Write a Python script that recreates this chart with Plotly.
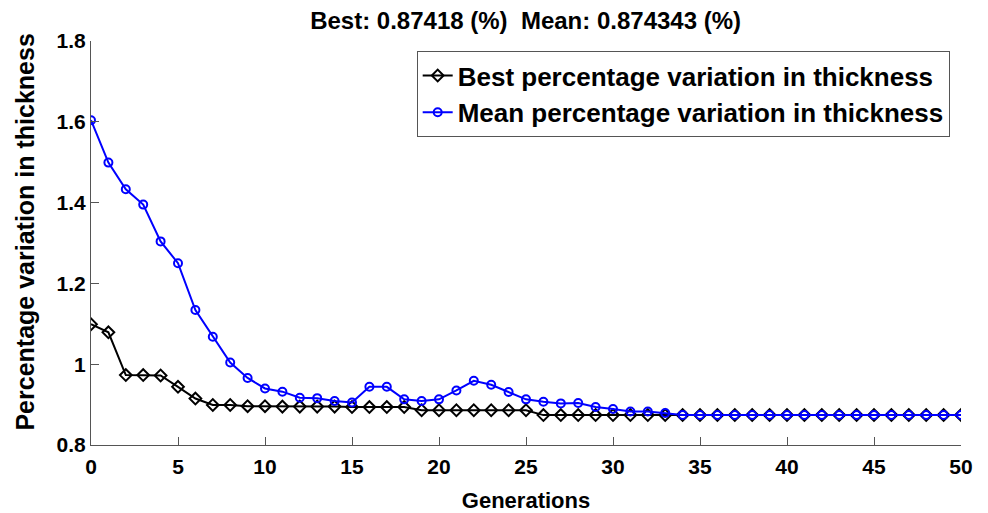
import plotly.graph_objects as go

generations = list(range(51))
best = [1.099, 1.079, 0.973, 0.973, 0.972, 0.944, 0.915, 0.899, 0.899, 0.896,
        0.896, 0.895, 0.895, 0.895, 0.895, 0.894, 0.894, 0.894, 0.894, 0.886,
        0.886, 0.886, 0.886, 0.886, 0.886, 0.886, 0.874, 0.874, 0.874, 0.874,
        0.874, 0.874, 0.874, 0.874, 0.874, 0.874, 0.874, 0.874, 0.874, 0.874,
        0.874, 0.874, 0.874, 0.874, 0.874, 0.874, 0.874, 0.874, 0.874, 0.874,
        0.87418]
mean = [1.604, 1.499, 1.433, 1.395, 1.304, 1.250, 1.134, 1.068, 1.004, 0.966,
        0.940, 0.932, 0.917, 0.916, 0.909, 0.905, 0.944, 0.944, 0.913, 0.909,
        0.913, 0.935, 0.959, 0.949, 0.931, 0.913, 0.907, 0.903, 0.904, 0.894,
        0.889, 0.883, 0.883, 0.879, 0.8745, 0.8744, 0.8744, 0.8744, 0.8744, 0.8744,
        0.8744, 0.8744, 0.8744, 0.8744, 0.8744, 0.8744, 0.8744, 0.8744, 0.8744, 0.8744,
        0.874343]
title_text = "Best: 0.87418 (%)  Mean: 0.874343 (%)"
x_title = "Generations"
y_title = "Percentage variation in thickness"

FONT = "Arial, 'Liberation Sans', sans-serif"

fig = go.Figure()
fig.add_trace(go.Scatter(
    x=generations, y=best, mode="lines+markers",
    name="Best percentage variation in thickness",
    line=dict(color="black", width=2),
    marker=dict(symbol="diamond-open", size=9, color="black", line=dict(width=2)),
))
fig.add_trace(go.Scatter(
    x=generations, y=mean, mode="lines+markers",
    name="Mean percentage variation in thickness",
    line=dict(color="#0000ff", width=2),
    marker=dict(symbol="circle-open", size=8, color="#0000ff", line=dict(width=2)),
))

fig.add_annotation(
    text=y_title, textangle=-90, showarrow=False,
    xref="paper", yref="paper", x=-0.076, y=0.528, xanchor="center", yanchor="middle",
    font=dict(size=25, weight="bold", family=FONT, color="black"),
)

fig.update_layout(
    width=988, height=513,
    margin=dict(l=91, r=27, t=41, b=68),
    paper_bgcolor="white", plot_bgcolor="white",
    font=dict(family=FONT, color="black", size=21, weight="bold"),
    title=dict(text=title_text, x=0.532, xanchor="center", y=0.959, yanchor="middle",
               font=dict(size=24, weight="bold", family=FONT)),
    showlegend=True,
    legend=dict(x=0.987, xanchor="right", y=0.975, yanchor="top",
                bgcolor="white", bordercolor="#555555", borderwidth=1,
                font=dict(size=26, weight="bold", family=FONT),
                itemwidth=30, tracegroupgap=0),
    xaxis=dict(range=[0, 50], tick0=0, dtick=5, ticks="inside", ticklen=8,
               tickcolor="#555555", showline=True, linecolor="#555555", linewidth=1,
               showgrid=False, zeroline=False, ticklabelstandoff=3, automargin=False,
               title=dict(text=x_title, font=dict(size=22, weight="bold"), standoff=15),
               tickfont=dict(size=21, weight="bold")),
    yaxis=dict(range=[0.8, 1.8], tick0=0.8, dtick=0.2, ticks="inside", ticklen=8,
               tickcolor="#555555", showline=True, linecolor="#555555", linewidth=1,
               showgrid=False, zeroline=False, automargin=False,
               tickfont=dict(size=21, weight="bold")),
)

fig.write_html("out.html")
